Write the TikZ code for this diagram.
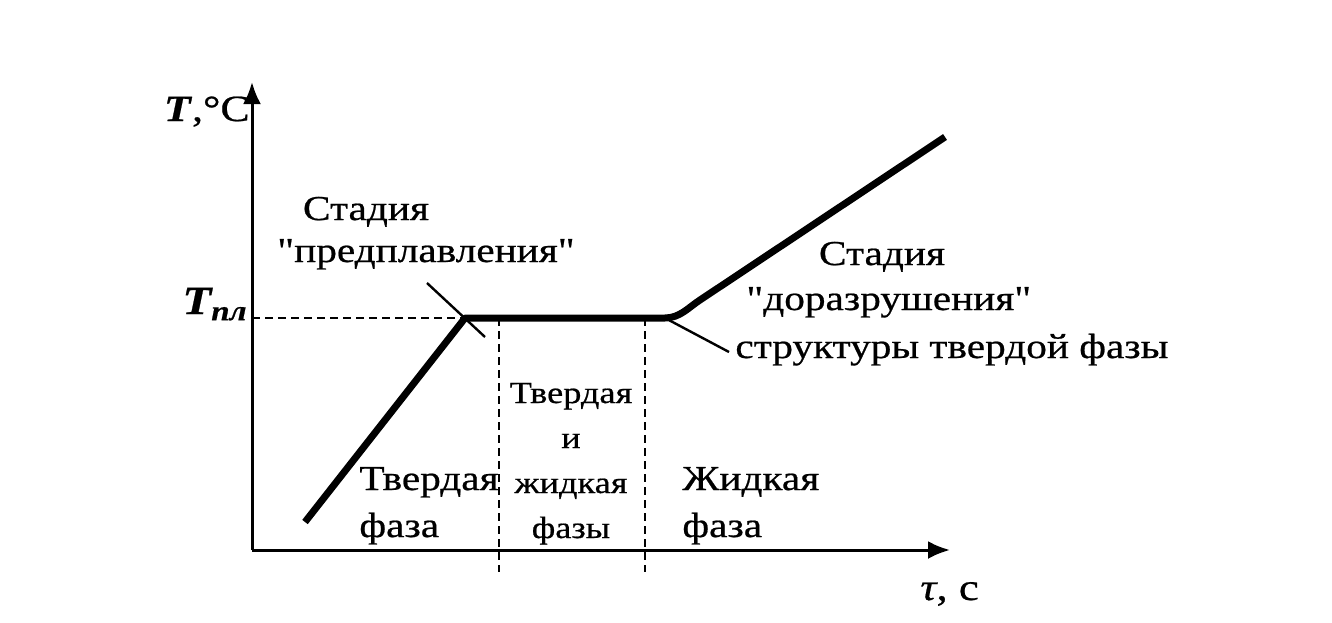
\documentclass[tikz,border=0pt]{standalone}
\usepackage{fontspec}
\setmainfont{Liberation Serif}[FakeStretch=1.18, FakeBold=0.6, Ligatures=TeXOff]
\usetikzlibrary{arrows.meta}

\begin{document}
\begin{tikzpicture}[x=0.5pt, y=-0.5pt, >={Latex[length=11pt,width=9pt]}, font=\fontsize{17.5}{23.5}\selectfont]
        \tikzstyle{axis} = [line width=1.5pt, ->]
        \tikzstyle{curve} = [line width=3.5pt, line join=round]
        \tikzstyle{guide} = [line width=1pt, dash pattern=on 4pt off 2.5pt]
        \tikzstyle{marker} = [line width=1.2pt]
        \tikzstyle{lbl} = [inner sep=0pt, anchor=base]
        \tikzstyle{axlbl} = [inner sep=0pt, font=\fontsize{20}{24}\selectfont]
        \useasboundingbox (0,0) rectangle (1332,622);
        \coordinate (O) at (252,550);
        \coordinate (ytop) at (252,82);
        \coordinate (xend) at (950,550);
        \coordinate (start) at (305,522);
        \coordinate (melt) at (465,318);
        \coordinate (melted) at (665,318);
        \coordinate (bend) at (700,300);
        \coordinate (hot) at (945,137);
        \coordinate (tpl) at (252,318);
        \coordinate (ga) at (499,318);
        \coordinate (gaend) at (499,572);
        \coordinate (gb) at (645,318);
        \coordinate (gbend) at (645,572);
        \coordinate (pre1) at (427,283);
        \coordinate (pre2) at (485,337);
        \coordinate (post) at (729,352);
        \draw[axis] (O) -- (ytop);
        \draw[axis] (O) -- (xend);
        \draw[guide] (tpl) -- (melt);
        \draw[guide] (ga) -- (gaend);
        \draw[guide] (gb) -- (gbend);
        \draw[curve] (start) -- (melt) -- (melted) .. controls (680,318) and (689,307) .. (bend) -- (hot);
        \draw[marker] (pre1) -- (pre2);
        \draw[marker] (melted) -- (post);
        \node[axlbl, anchor=base east, font=\fontsize{18.5}{22}\selectfont] (ylab) at (250,121) {\textbf{\textit{T}},°C};
        \node[axlbl, anchor=base east] (tpllab) at (248,314) {\textbf{\textit{T\textsubscript{пл}}}};
        \node[lbl] (pretop) at (366,220) {Стадия};
        \node[lbl] (prebot) at (426,262) {"предплавления"};
        \node[lbl] (posttop) at (882,265) {Стадия};
        \node[lbl, anchor=base west] (postmid) at (746,310) {"доразрушения"};
        \node[lbl, anchor=base west] (postbot) at (735,358) {структуры твердой фазы};
        \node[lbl, align=center, font=\fontsize{15.4}{22.5}\selectfont] (mix) at (571,538) {Твердая\\и\\жидкая\\фазы};
        \node[lbl, align=left, anchor=base west] (solid) at (359,537) {Твердая\\фаза};
        \node[lbl, align=left, anchor=base west] (liquid) at (682,537) {Жидкая\\фаза};
        \node[axlbl, anchor=base west, font=\fontsize{19}{22}\selectfont] (xlab) at (920,600) {\textit{τ}, с};
\end{tikzpicture}
\end{document}
